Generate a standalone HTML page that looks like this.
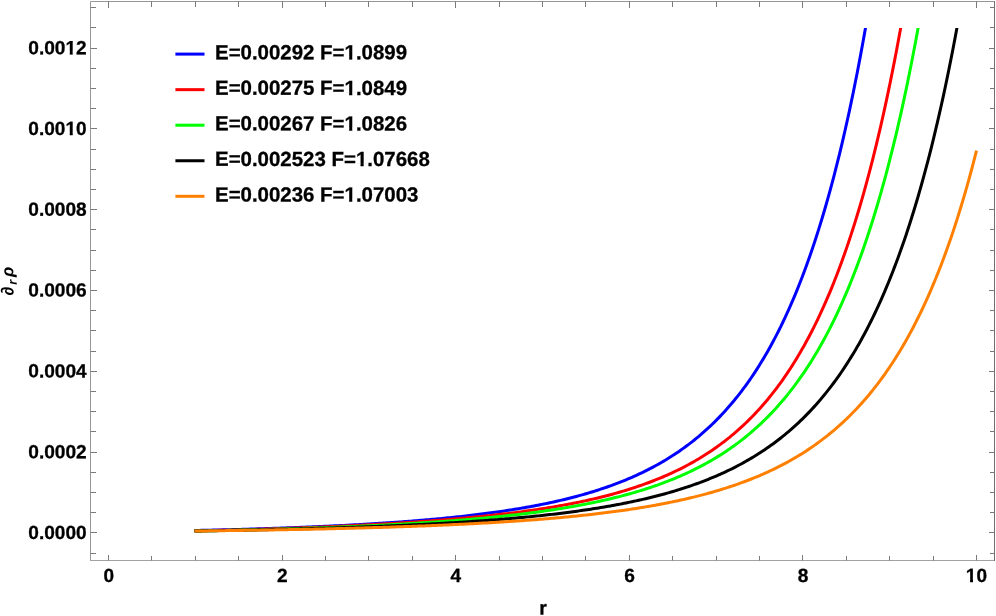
<!DOCTYPE html>
<html><head><meta charset="utf-8"><title>plot</title>
<style>
html,body{margin:0;padding:0;background:#fff;}
body{width:996px;height:616px;position:relative;overflow:hidden;font-family:"Liberation Sans",sans-serif;font-weight:bold;color:#000;}
.t{position:absolute;white-space:nowrap;line-height:1;-webkit-text-stroke:0.3px #000;}
#txt{position:absolute;left:0;top:0;width:996px;height:616px;will-change:transform;transform:translateZ(0);}
.one{display:inline-block;clip-path:polygon(-1px -1px,110% -1px,110% 0.7em,calc(0.3706em + 0.15px) 0.7em,calc(0.3706em + 0.15px) 1.1em,calc(0.2334em - 0.15px) 1.1em,calc(0.2334em - 0.15px) 0.7em,-1px 0.7em);}
.yl{font-size:19.1px;right:909px;text-align:right;}
.xl{font-size:19.1px;}
.lg{font-size:20.45px;left:215.1px;}
</style></head><body>
<svg width="996" height="616" viewBox="0 0 996 616" style="position:absolute;left:0;top:0">
<defs><clipPath id="cp"><rect x="91" y="28" width="903" height="532"/></clipPath></defs><g clip-path="url(#cp)">
<path d="M194.45 530.51 L195.35 530.49 L197.31 530.44 L199.27 530.40 L201.22 530.36 L203.18 530.32 L205.14 530.27 L207.10 530.23 L209.06 530.18 L211.01 530.14 L212.97 530.09 L214.93 530.04 L216.89 530.00 L218.84 529.95 L220.80 529.90 L222.76 529.85 L224.72 529.80 L226.68 529.75 L228.63 529.70 L230.59 529.65 L232.55 529.60 L234.51 529.54 L236.47 529.49 L238.42 529.44 L240.38 529.38 L242.34 529.33 L244.30 529.27 L246.26 529.22 L248.21 529.16 L250.17 529.10 L252.13 529.04 L254.09 528.98 L256.04 528.92 L258.00 528.86 L259.96 528.80 L261.92 528.74 L263.88 528.68 L265.83 528.61 L267.79 528.55 L269.75 528.49 L271.71 528.42 L273.67 528.35 L275.62 528.29 L277.58 528.22 L279.54 528.15 L281.50 528.08 L283.46 528.01 L285.41 527.94 L287.37 527.87 L289.33 527.80 L291.29 527.72 L293.24 527.65 L295.20 527.57 L297.16 527.50 L299.12 527.42 L301.08 527.34 L303.03 527.26 L304.99 527.18 L306.95 527.10 L308.91 527.02 L310.87 526.94 L312.82 526.86 L314.78 526.77 L316.74 526.69 L318.70 526.60 L320.66 526.51 L322.61 526.42 L324.57 526.33 L326.53 526.24 L328.49 526.15 L330.44 526.06 L332.40 525.97 L334.36 525.87 L336.32 525.78 L338.28 525.68 L340.23 525.58 L342.19 525.48 L344.15 525.38 L346.11 525.28 L348.07 525.18 L350.02 525.07 L351.98 524.97 L353.94 524.86 L355.90 524.75 L357.86 524.65 L359.81 524.54 L361.77 524.42 L363.73 524.31 L365.69 524.20 L367.64 524.08 L369.60 523.96 L371.56 523.85 L373.52 523.73 L375.48 523.60 L377.43 523.48 L379.39 523.36 L381.35 523.23 L383.31 523.10 L385.27 522.97 L387.22 522.84 L389.18 522.71 L391.14 522.58 L393.10 522.44 L395.06 522.31 L397.01 522.17 L398.97 522.03 L400.93 521.88 L402.89 521.74 L404.84 521.59 L406.80 521.45 L408.76 521.30 L410.72 521.14 L412.68 520.99 L414.63 520.84 L416.59 520.68 L418.55 520.52 L420.51 520.36 L422.47 520.19 L424.42 520.03 L426.38 519.86 L428.34 519.69 L430.30 519.52 L432.26 519.34 L434.21 519.16 L436.17 518.98 L438.13 518.80 L440.09 518.62 L442.04 518.43 L444.00 518.24 L445.96 518.05 L447.92 517.86 L449.88 517.66 L451.83 517.46 L453.79 517.26 L455.75 517.05 L457.71 516.85 L459.67 516.63 L461.62 516.42 L463.58 516.20 L465.54 515.98 L467.50 515.76 L469.46 515.54 L471.41 515.31 L473.37 515.07 L475.33 514.84 L477.29 514.60 L479.24 514.36 L481.20 514.11 L483.16 513.86 L485.12 513.61 L487.08 513.35 L489.03 513.09 L490.99 512.83 L492.95 512.56 L494.91 512.29 L496.87 512.02 L498.82 511.74 L500.78 511.45 L502.74 511.16 L504.70 510.87 L506.66 510.58 L508.61 510.27 L510.57 509.97 L512.53 509.66 L514.49 509.34 L516.44 509.02 L518.40 508.70 L520.36 508.37 L522.32 508.04 L524.28 507.70 L526.23 507.35 L528.19 507.00 L530.15 506.65 L532.11 506.29 L534.07 505.92 L536.02 505.55 L537.98 505.17 L539.94 504.79 L541.90 504.40 L543.86 504.00 L545.81 503.60 L547.77 503.19 L549.73 502.77 L551.69 502.35 L553.64 501.92 L555.60 501.48 L557.56 501.04 L559.52 500.59 L561.48 500.13 L563.43 499.67 L565.39 499.20 L567.35 498.72 L569.31 498.23 L571.27 497.73 L573.22 497.23 L575.18 496.71 L577.14 496.19 L579.10 495.66 L581.06 495.12 L583.01 494.57 L584.97 494.01 L586.93 493.45 L588.89 492.87 L590.84 492.28 L592.80 491.69 L594.76 491.08 L596.72 490.46 L598.68 489.83 L600.63 489.19 L602.59 488.54 L604.55 487.88 L606.51 487.21 L608.47 486.52 L610.42 485.83 L612.38 485.12 L614.34 484.39 L616.30 483.66 L618.26 482.91 L620.21 482.15 L622.17 481.37 L624.13 480.58 L626.09 479.78 L628.04 478.96 L630.00 478.13 L631.96 477.28 L633.92 476.42 L635.88 475.54 L637.83 474.64 L639.79 473.73 L641.75 472.80 L643.71 471.85 L645.67 470.89 L647.62 469.91 L649.58 468.91 L651.54 467.89 L653.50 466.85 L655.46 465.79 L657.41 464.71 L659.37 463.61 L661.33 462.49 L663.29 461.35 L665.24 460.19 L667.20 459.00 L669.16 457.80 L671.12 456.56 L673.08 455.31 L675.03 454.03 L676.99 452.72 L678.95 451.39 L680.91 450.04 L682.87 448.65 L684.82 447.24 L686.78 445.80 L688.74 444.33 L690.70 442.84 L692.66 441.31 L694.61 439.75 L696.57 438.17 L698.53 436.55 L700.49 434.89 L702.44 433.21 L704.40 431.48 L706.36 429.73 L708.32 427.94 L710.28 426.11 L712.23 424.24 L714.19 422.34 L716.15 420.39 L718.11 418.41 L720.07 416.38 L722.02 414.31 L723.98 412.20 L725.94 410.05 L727.90 407.85 L729.86 405.60 L731.81 403.30 L733.77 400.96 L735.73 398.57 L737.69 396.12 L739.64 393.63 L741.60 391.08 L743.56 388.47 L745.52 385.81 L747.48 383.09 L749.43 380.31 L751.39 377.48 L753.35 374.58 L755.31 371.61 L757.27 368.58 L759.22 365.49 L761.18 362.33 L763.14 359.10 L765.10 355.79 L767.06 352.41 L769.01 348.96 L770.97 345.43 L772.93 341.82 L774.89 338.13 L776.84 334.36 L778.80 330.50 L780.76 326.56 L782.72 322.52 L784.68 318.40 L786.63 314.17 L788.59 309.86 L790.55 305.44 L792.51 300.92 L794.47 296.30 L796.42 291.57 L798.38 286.73 L800.34 281.78 L802.30 276.72 L804.26 271.53 L806.21 266.23 L808.17 260.80 L810.13 255.24 L812.09 249.55 L814.04 243.73 L816.00 237.77 L817.96 231.66 L819.92 225.41 L821.88 219.02 L823.83 212.46 L825.79 205.76 L827.75 198.88 L829.71 191.85 L831.67 184.64 L833.62 177.26 L835.58 169.70 L837.54 161.95 L839.50 154.02 L841.46 145.89 L843.41 137.56 L845.37 129.02 L847.33 120.28 L849.29 111.32 L851.24 102.13 L853.20 92.72 L855.16 83.07 L857.12 73.18 L859.08 63.05 L861.03 52.65 L862.99 42.00 L864.95 31.08 L866.91 19.88" fill="none" stroke="#0000ff" stroke-width="3" stroke-linejoin="round" stroke-linecap="butt"/>
<path d="M194.45 530.91 L195.35 530.89 L197.31 530.85 L199.27 530.81 L201.22 530.77 L203.18 530.73 L205.14 530.68 L207.10 530.64 L209.06 530.60 L211.01 530.55 L212.97 530.51 L214.93 530.46 L216.89 530.41 L218.84 530.37 L220.80 530.32 L222.76 530.27 L224.72 530.22 L226.68 530.18 L228.63 530.13 L230.59 530.08 L232.55 530.02 L234.51 529.97 L236.47 529.92 L238.42 529.87 L240.38 529.82 L242.34 529.76 L244.30 529.71 L246.26 529.65 L248.21 529.60 L250.17 529.54 L252.13 529.48 L254.09 529.43 L256.04 529.37 L258.00 529.31 L259.96 529.25 L261.92 529.19 L263.88 529.13 L265.83 529.07 L267.79 529.01 L269.75 528.94 L271.71 528.88 L273.67 528.82 L275.62 528.75 L277.58 528.69 L279.54 528.62 L281.50 528.55 L283.46 528.49 L285.41 528.42 L287.37 528.35 L289.33 528.28 L291.29 528.21 L293.24 528.14 L295.20 528.07 L297.16 528.00 L299.12 527.92 L301.08 527.85 L303.03 527.78 L304.99 527.70 L306.95 527.62 L308.91 527.55 L310.87 527.47 L312.82 527.39 L314.78 527.31 L316.74 527.23 L318.70 527.15 L320.66 527.07 L322.61 526.99 L324.57 526.91 L326.53 526.82 L328.49 526.74 L330.44 526.65 L332.40 526.57 L334.36 526.48 L336.32 526.39 L338.28 526.30 L340.23 526.21 L342.19 526.12 L344.15 526.03 L346.11 525.94 L348.07 525.84 L350.02 525.75 L351.98 525.65 L353.94 525.56 L355.90 525.46 L357.86 525.36 L359.81 525.26 L361.77 525.16 L363.73 525.06 L365.69 524.96 L367.64 524.85 L369.60 524.75 L371.56 524.64 L373.52 524.54 L375.48 524.43 L377.43 524.32 L379.39 524.21 L381.35 524.10 L383.31 523.99 L385.27 523.87 L387.22 523.76 L389.18 523.64 L391.14 523.53 L393.10 523.41 L395.06 523.29 L397.01 523.17 L398.97 523.04 L400.93 522.92 L402.89 522.80 L404.84 522.67 L406.80 522.54 L408.76 522.41 L410.72 522.28 L412.68 522.15 L414.63 522.02 L416.59 521.88 L418.55 521.75 L420.51 521.61 L422.47 521.47 L424.42 521.33 L426.38 521.19 L428.34 521.04 L430.30 520.90 L432.26 520.75 L434.21 520.60 L436.17 520.45 L438.13 520.30 L440.09 520.15 L442.04 519.99 L444.00 519.83 L445.96 519.67 L447.92 519.51 L449.88 519.35 L451.83 519.18 L453.79 519.01 L455.75 518.85 L457.71 518.67 L459.67 518.50 L461.62 518.33 L463.58 518.15 L465.54 517.97 L467.50 517.79 L469.46 517.60 L471.41 517.42 L473.37 517.23 L475.33 517.04 L477.29 516.84 L479.24 516.65 L481.20 516.45 L483.16 516.25 L485.12 516.04 L487.08 515.84 L489.03 515.63 L490.99 515.42 L492.95 515.20 L494.91 514.98 L496.87 514.76 L498.82 514.54 L500.78 514.31 L502.74 514.09 L504.70 513.85 L506.66 513.62 L508.61 513.38 L510.57 513.14 L512.53 512.89 L514.49 512.64 L516.44 512.39 L518.40 512.14 L520.36 511.88 L522.32 511.62 L524.28 511.35 L526.23 511.08 L528.19 510.81 L530.15 510.53 L532.11 510.25 L534.07 509.96 L536.02 509.67 L537.98 509.38 L539.94 509.08 L541.90 508.78 L543.86 508.47 L545.81 508.16 L547.77 507.85 L549.73 507.53 L551.69 507.20 L553.64 506.87 L555.60 506.54 L557.56 506.20 L559.52 505.85 L561.48 505.50 L563.43 505.14 L565.39 504.78 L567.35 504.42 L569.31 504.05 L571.27 503.67 L573.22 503.28 L575.18 502.89 L577.14 502.50 L579.10 502.10 L581.06 501.69 L583.01 501.27 L584.97 500.85 L586.93 500.42 L588.89 499.99 L590.84 499.55 L592.80 499.10 L594.76 498.64 L596.72 498.18 L598.68 497.71 L600.63 497.23 L602.59 496.74 L604.55 496.25 L606.51 495.74 L608.47 495.23 L610.42 494.71 L612.38 494.18 L614.34 493.65 L616.30 493.10 L618.26 492.55 L620.21 491.98 L622.17 491.41 L624.13 490.82 L626.09 490.23 L628.04 489.62 L630.00 489.01 L631.96 488.38 L633.92 487.75 L635.88 487.10 L637.83 486.44 L639.79 485.77 L641.75 485.09 L643.71 484.40 L645.67 483.69 L647.62 482.97 L649.58 482.24 L651.54 481.50 L653.50 480.74 L655.46 479.97 L657.41 479.19 L659.37 478.39 L661.33 477.57 L663.29 476.75 L665.24 475.90 L667.20 475.04 L669.16 474.17 L671.12 473.28 L673.08 472.37 L675.03 471.45 L676.99 470.51 L678.95 469.55 L680.91 468.57 L682.87 467.58 L684.82 466.57 L686.78 465.53 L688.74 464.48 L690.70 463.41 L692.66 462.32 L694.61 461.21 L696.57 460.07 L698.53 458.92 L700.49 457.74 L702.44 456.54 L704.40 455.32 L706.36 454.07 L708.32 452.80 L710.28 451.50 L712.23 450.18 L714.19 448.83 L716.15 447.46 L718.11 446.06 L720.07 444.63 L722.02 443.17 L723.98 441.69 L725.94 440.17 L727.90 438.63 L729.86 437.05 L731.81 435.45 L733.77 433.80 L735.73 432.13 L737.69 430.42 L739.64 428.68 L741.60 426.91 L743.56 425.09 L745.52 423.24 L747.48 421.35 L749.43 419.43 L751.39 417.46 L753.35 415.45 L755.31 413.41 L757.27 411.31 L759.22 409.18 L761.18 407.00 L763.14 404.78 L765.10 402.51 L767.06 400.19 L769.01 397.82 L770.97 395.40 L772.93 392.93 L774.89 390.41 L776.84 387.84 L778.80 385.21 L780.76 382.52 L782.72 379.78 L784.68 376.98 L786.63 374.11 L788.59 371.19 L790.55 368.20 L792.51 365.15 L794.47 362.03 L796.42 358.85 L798.38 355.59 L800.34 352.27 L802.30 348.87 L804.26 345.39 L806.21 341.84 L808.17 338.21 L810.13 334.51 L812.09 330.71 L814.04 326.84 L816.00 322.88 L817.96 318.83 L819.92 314.69 L821.88 310.46 L823.83 306.13 L825.79 301.70 L827.75 297.18 L829.71 292.55 L831.67 287.82 L833.62 282.98 L835.58 278.03 L837.54 272.97 L839.50 267.79 L841.46 262.50 L843.41 257.08 L845.37 251.54 L847.33 245.87 L849.29 240.07 L851.24 234.14 L853.20 228.07 L855.16 221.86 L857.12 215.50 L859.08 209.00 L861.03 202.35 L862.99 195.54 L864.95 188.57 L866.91 181.43 L868.87 174.13 L870.82 166.66 L872.78 159.01 L874.74 151.18 L876.70 143.17 L878.66 134.96 L880.61 126.56 L882.57 117.97 L884.53 109.16 L886.49 100.15 L888.44 90.92 L890.40 81.47 L892.36 71.79 L894.32 61.88 L896.28 51.73 L898.23 41.33 L900.19 30.69 L902.15 19.79" fill="none" stroke="#ff0000" stroke-width="3" stroke-linejoin="round" stroke-linecap="butt"/>
<path d="M194.45 531.01 L195.35 530.99 L197.31 530.95 L199.27 530.92 L201.22 530.88 L203.18 530.85 L205.14 530.81 L207.10 530.78 L209.06 530.74 L211.01 530.70 L212.97 530.66 L214.93 530.63 L216.89 530.59 L218.84 530.55 L220.80 530.51 L222.76 530.47 L224.72 530.43 L226.68 530.39 L228.63 530.35 L230.59 530.30 L232.55 530.26 L234.51 530.22 L236.47 530.18 L238.42 530.13 L240.38 530.09 L242.34 530.04 L244.30 530.00 L246.26 529.95 L248.21 529.90 L250.17 529.86 L252.13 529.81 L254.09 529.76 L256.04 529.71 L258.00 529.66 L259.96 529.61 L261.92 529.56 L263.88 529.51 L265.83 529.46 L267.79 529.41 L269.75 529.36 L271.71 529.30 L273.67 529.25 L275.62 529.20 L277.58 529.14 L279.54 529.09 L281.50 529.03 L283.46 528.97 L285.41 528.92 L287.37 528.86 L289.33 528.80 L291.29 528.74 L293.24 528.68 L295.20 528.62 L297.16 528.56 L299.12 528.50 L301.08 528.43 L303.03 528.37 L304.99 528.31 L306.95 528.24 L308.91 528.18 L310.87 528.11 L312.82 528.04 L314.78 527.98 L316.74 527.91 L318.70 527.84 L320.66 527.77 L322.61 527.70 L324.57 527.63 L326.53 527.56 L328.49 527.48 L330.44 527.41 L332.40 527.34 L334.36 527.26 L336.32 527.19 L338.28 527.11 L340.23 527.03 L342.19 526.95 L344.15 526.87 L346.11 526.79 L348.07 526.71 L350.02 526.63 L351.98 526.55 L353.94 526.46 L355.90 526.38 L357.86 526.29 L359.81 526.21 L361.77 526.12 L363.73 526.03 L365.69 525.94 L367.64 525.85 L369.60 525.76 L371.56 525.67 L373.52 525.57 L375.48 525.48 L377.43 525.38 L379.39 525.29 L381.35 525.19 L383.31 525.09 L385.27 524.99 L387.22 524.89 L389.18 524.79 L391.14 524.68 L393.10 524.58 L395.06 524.47 L397.01 524.36 L398.97 524.26 L400.93 524.15 L402.89 524.04 L404.84 523.92 L406.80 523.81 L408.76 523.70 L410.72 523.58 L412.68 523.46 L414.63 523.34 L416.59 523.22 L418.55 523.10 L420.51 522.98 L422.47 522.86 L424.42 522.73 L426.38 522.60 L428.34 522.47 L430.30 522.34 L432.26 522.21 L434.21 522.08 L436.17 521.94 L438.13 521.81 L440.09 521.67 L442.04 521.53 L444.00 521.39 L445.96 521.24 L447.92 521.10 L449.88 520.95 L451.83 520.80 L453.79 520.65 L455.75 520.50 L457.71 520.34 L459.67 520.19 L461.62 520.03 L463.58 519.87 L465.54 519.71 L467.50 519.54 L469.46 519.38 L471.41 519.21 L473.37 519.04 L475.33 518.86 L477.29 518.69 L479.24 518.51 L481.20 518.33 L483.16 518.15 L485.12 517.96 L487.08 517.78 L489.03 517.59 L490.99 517.40 L492.95 517.20 L494.91 517.01 L496.87 516.81 L498.82 516.60 L500.78 516.40 L502.74 516.19 L504.70 515.98 L506.66 515.77 L508.61 515.55 L510.57 515.33 L512.53 515.11 L514.49 514.89 L516.44 514.66 L518.40 514.43 L520.36 514.19 L522.32 513.96 L524.28 513.72 L526.23 513.47 L528.19 513.22 L530.15 512.97 L532.11 512.72 L534.07 512.46 L536.02 512.20 L537.98 511.93 L539.94 511.66 L541.90 511.39 L543.86 511.11 L545.81 510.83 L547.77 510.55 L549.73 510.26 L551.69 509.96 L553.64 509.67 L555.60 509.36 L557.56 509.06 L559.52 508.75 L561.48 508.43 L563.43 508.11 L565.39 507.78 L567.35 507.45 L569.31 507.12 L571.27 506.78 L573.22 506.43 L575.18 506.08 L577.14 505.73 L579.10 505.37 L581.06 505.00 L583.01 504.63 L584.97 504.25 L586.93 503.87 L588.89 503.48 L590.84 503.08 L592.80 502.68 L594.76 502.27 L596.72 501.86 L598.68 501.44 L600.63 501.01 L602.59 500.57 L604.55 500.13 L606.51 499.68 L608.47 499.23 L610.42 498.76 L612.38 498.29 L614.34 497.82 L616.30 497.33 L618.26 496.84 L620.21 496.34 L622.17 495.83 L624.13 495.31 L626.09 494.78 L628.04 494.25 L630.00 493.70 L631.96 493.15 L633.92 492.59 L635.88 492.02 L637.83 491.43 L639.79 490.84 L641.75 490.24 L643.71 489.63 L645.67 489.01 L647.62 488.38 L649.58 487.74 L651.54 487.08 L653.50 486.42 L655.46 485.74 L657.41 485.05 L659.37 484.35 L661.33 483.64 L663.29 482.92 L665.24 482.18 L667.20 481.43 L669.16 480.67 L671.12 479.89 L673.08 479.10 L675.03 478.30 L676.99 477.48 L678.95 476.64 L680.91 475.80 L682.87 474.93 L684.82 474.06 L686.78 473.16 L688.74 472.25 L690.70 471.32 L692.66 470.38 L694.61 469.42 L696.57 468.44 L698.53 467.44 L700.49 466.43 L702.44 465.40 L704.40 464.34 L706.36 463.27 L708.32 462.18 L710.28 461.07 L712.23 459.93 L714.19 458.78 L716.15 457.60 L718.11 456.40 L720.07 455.18 L722.02 453.94 L723.98 452.67 L725.94 451.38 L727.90 450.06 L729.86 448.72 L731.81 447.35 L733.77 445.96 L735.73 444.54 L737.69 443.09 L739.64 441.61 L741.60 440.11 L743.56 438.57 L745.52 437.01 L747.48 435.41 L749.43 433.79 L751.39 432.13 L753.35 430.44 L755.31 428.71 L757.27 426.95 L759.22 425.16 L761.18 423.32 L763.14 421.46 L765.10 419.55 L767.06 417.61 L769.01 415.62 L770.97 413.60 L772.93 411.54 L774.89 409.43 L776.84 407.28 L778.80 405.09 L780.76 402.85 L782.72 400.56 L784.68 398.23 L786.63 395.85 L788.59 393.42 L790.55 390.94 L792.51 388.41 L794.47 385.82 L796.42 383.18 L798.38 380.49 L800.34 377.74 L802.30 374.93 L804.26 372.06 L806.21 369.13 L808.17 366.13 L810.13 363.08 L812.09 359.95 L814.04 356.76 L816.00 353.51 L817.96 350.18 L819.92 346.78 L821.88 343.30 L823.83 339.75 L825.79 336.12 L827.75 332.42 L829.71 328.63 L831.67 324.76 L833.62 320.80 L835.58 316.76 L837.54 312.62 L839.50 308.40 L841.46 304.08 L843.41 299.67 L845.37 295.15 L847.33 290.54 L849.29 285.82 L851.24 280.99 L853.20 276.06 L855.16 271.01 L857.12 265.85 L859.08 260.57 L861.03 255.18 L862.99 249.66 L864.95 244.01 L866.91 238.23 L868.87 232.32 L870.82 226.27 L872.78 220.09 L874.74 213.76 L876.70 207.28 L878.66 200.65 L880.61 193.87 L882.57 186.93 L884.53 179.82 L886.49 172.55 L888.44 165.11 L890.40 157.49 L892.36 149.69 L894.32 141.71 L896.28 133.53 L898.23 125.16 L900.19 116.59 L902.15 107.82 L904.11 98.84 L906.07 89.63 L908.02 80.21 L909.98 70.56 L911.94 60.67 L913.90 50.55 L915.86 40.18 L917.81 29.55 L919.77 18.67" fill="none" stroke="#00ff00" stroke-width="3" stroke-linejoin="round" stroke-linecap="butt"/>
<path d="M194.45 530.99 L195.35 530.97 L197.31 530.94 L199.27 530.91 L201.22 530.88 L203.18 530.85 L205.14 530.82 L207.10 530.79 L209.06 530.76 L211.01 530.72 L212.97 530.69 L214.93 530.66 L216.89 530.63 L218.84 530.59 L220.80 530.56 L222.76 530.53 L224.72 530.49 L226.68 530.46 L228.63 530.42 L230.59 530.39 L232.55 530.35 L234.51 530.31 L236.47 530.28 L238.42 530.24 L240.38 530.20 L242.34 530.17 L244.30 530.13 L246.26 530.09 L248.21 530.05 L250.17 530.01 L252.13 529.97 L254.09 529.93 L256.04 529.89 L258.00 529.85 L259.96 529.81 L261.92 529.77 L263.88 529.73 L265.83 529.68 L267.79 529.64 L269.75 529.60 L271.71 529.55 L273.67 529.51 L275.62 529.47 L277.58 529.42 L279.54 529.37 L281.50 529.33 L283.46 529.28 L285.41 529.24 L287.37 529.19 L289.33 529.14 L291.29 529.09 L293.24 529.04 L295.20 528.99 L297.16 528.94 L299.12 528.89 L301.08 528.84 L303.03 528.79 L304.99 528.74 L306.95 528.69 L308.91 528.63 L310.87 528.58 L312.82 528.52 L314.78 528.47 L316.74 528.41 L318.70 528.36 L320.66 528.30 L322.61 528.25 L324.57 528.19 L326.53 528.13 L328.49 528.07 L330.44 528.01 L332.40 527.95 L334.36 527.89 L336.32 527.83 L338.28 527.77 L340.23 527.70 L342.19 527.64 L344.15 527.58 L346.11 527.51 L348.07 527.45 L350.02 527.38 L351.98 527.32 L353.94 527.25 L355.90 527.18 L357.86 527.11 L359.81 527.04 L361.77 526.97 L363.73 526.90 L365.69 526.83 L367.64 526.76 L369.60 526.68 L371.56 526.61 L373.52 526.54 L375.48 526.46 L377.43 526.38 L379.39 526.31 L381.35 526.23 L383.31 526.15 L385.27 526.07 L387.22 525.99 L389.18 525.91 L391.14 525.82 L393.10 525.74 L395.06 525.66 L397.01 525.57 L398.97 525.49 L400.93 525.40 L402.89 525.31 L404.84 525.22 L406.80 525.13 L408.76 525.04 L410.72 524.95 L412.68 524.86 L414.63 524.76 L416.59 524.67 L418.55 524.57 L420.51 524.47 L422.47 524.38 L424.42 524.28 L426.38 524.18 L428.34 524.07 L430.30 523.97 L432.26 523.87 L434.21 523.76 L436.17 523.66 L438.13 523.55 L440.09 523.44 L442.04 523.33 L444.00 523.22 L445.96 523.10 L447.92 522.99 L449.88 522.87 L451.83 522.76 L453.79 522.64 L455.75 522.52 L457.71 522.40 L459.67 522.27 L461.62 522.15 L463.58 522.03 L465.54 521.90 L467.50 521.77 L469.46 521.64 L471.41 521.51 L473.37 521.37 L475.33 521.24 L477.29 521.10 L479.24 520.96 L481.20 520.82 L483.16 520.68 L485.12 520.54 L487.08 520.39 L489.03 520.24 L490.99 520.10 L492.95 519.94 L494.91 519.79 L496.87 519.64 L498.82 519.48 L500.78 519.32 L502.74 519.16 L504.70 519.00 L506.66 518.83 L508.61 518.66 L510.57 518.49 L512.53 518.32 L514.49 518.15 L516.44 517.97 L518.40 517.79 L520.36 517.61 L522.32 517.43 L524.28 517.24 L526.23 517.06 L528.19 516.87 L530.15 516.67 L532.11 516.48 L534.07 516.28 L536.02 516.08 L537.98 515.87 L539.94 515.67 L541.90 515.46 L543.86 515.24 L545.81 515.03 L547.77 514.81 L549.73 514.59 L551.69 514.37 L553.64 514.14 L555.60 513.91 L557.56 513.67 L559.52 513.44 L561.48 513.20 L563.43 512.95 L565.39 512.70 L567.35 512.45 L569.31 512.20 L571.27 511.94 L573.22 511.68 L575.18 511.41 L577.14 511.14 L579.10 510.87 L581.06 510.59 L583.01 510.31 L584.97 510.03 L586.93 509.74 L588.89 509.44 L590.84 509.15 L592.80 508.84 L594.76 508.54 L596.72 508.22 L598.68 507.91 L600.63 507.59 L602.59 507.26 L604.55 506.93 L606.51 506.59 L608.47 506.25 L610.42 505.91 L612.38 505.56 L614.34 505.20 L616.30 504.84 L618.26 504.47 L620.21 504.10 L622.17 503.72 L624.13 503.33 L626.09 502.94 L628.04 502.54 L630.00 502.14 L631.96 501.73 L633.92 501.32 L635.88 500.89 L637.83 500.46 L639.79 500.03 L641.75 499.59 L643.71 499.14 L645.67 498.68 L647.62 498.21 L649.58 497.74 L651.54 497.26 L653.50 496.77 L655.46 496.28 L657.41 495.78 L659.37 495.26 L661.33 494.74 L663.29 494.22 L665.24 493.68 L667.20 493.13 L669.16 492.58 L671.12 492.01 L673.08 491.44 L675.03 490.86 L676.99 490.26 L678.95 489.66 L680.91 489.05 L682.87 488.42 L684.82 487.79 L686.78 487.14 L688.74 486.49 L690.70 485.82 L692.66 485.14 L694.61 484.45 L696.57 483.75 L698.53 483.04 L700.49 482.31 L702.44 481.57 L704.40 480.82 L706.36 480.05 L708.32 479.27 L710.28 478.48 L712.23 477.68 L714.19 476.86 L716.15 476.02 L718.11 475.17 L720.07 474.31 L722.02 473.43 L723.98 472.53 L725.94 471.62 L727.90 470.69 L729.86 469.74 L731.81 468.78 L733.77 467.80 L735.73 466.81 L737.69 465.79 L739.64 464.76 L741.60 463.70 L743.56 462.63 L745.52 461.54 L747.48 460.43 L749.43 459.29 L751.39 458.14 L753.35 456.96 L755.31 455.77 L757.27 454.55 L759.22 453.30 L761.18 452.04 L763.14 450.75 L765.10 449.43 L767.06 448.09 L769.01 446.73 L770.97 445.34 L772.93 443.92 L774.89 442.48 L776.84 441.01 L778.80 439.51 L780.76 437.98 L782.72 436.42 L784.68 434.83 L786.63 433.21 L788.59 431.56 L790.55 429.87 L792.51 428.16 L794.47 426.41 L796.42 424.62 L798.38 422.80 L800.34 420.94 L802.30 419.05 L804.26 417.12 L806.21 415.15 L808.17 413.14 L810.13 411.09 L812.09 409.00 L814.04 406.87 L816.00 404.69 L817.96 402.47 L819.92 400.21 L821.88 397.90 L823.83 395.54 L825.79 393.13 L827.75 390.68 L829.71 388.17 L831.67 385.61 L833.62 383.00 L835.58 380.34 L837.54 377.62 L839.50 374.84 L841.46 372.01 L843.41 369.11 L845.37 366.16 L847.33 363.14 L849.29 360.06 L851.24 356.91 L853.20 353.70 L855.16 350.42 L857.12 347.07 L859.08 343.65 L861.03 340.16 L862.99 336.59 L864.95 332.94 L866.91 329.21 L868.87 325.41 L870.82 321.52 L872.78 317.55 L874.74 313.49 L876.70 309.34 L878.66 305.11 L880.61 300.77 L882.57 296.35 L884.53 291.83 L886.49 287.20 L888.44 282.48 L890.40 277.65 L892.36 272.71 L894.32 267.66 L896.28 262.50 L898.23 257.23 L900.19 251.83 L902.15 246.32 L904.11 240.68 L906.07 234.91 L908.02 229.01 L909.98 222.98 L911.94 216.81 L913.90 210.50 L915.86 204.05 L917.81 197.45 L919.77 190.69 L921.73 183.78 L923.69 176.72 L925.64 169.48 L927.60 162.08 L929.56 154.51 L931.52 146.76 L933.48 138.84 L935.43 130.72 L937.39 122.42 L939.35 113.92 L941.31 105.22 L943.27 96.31 L945.22 87.19 L947.18 77.86 L949.14 68.31 L951.10 58.53 L953.06 48.51 L955.01 38.25 L956.97 27.75 L958.93 17.00" fill="none" stroke="#000000" stroke-width="3" stroke-linejoin="round" stroke-linecap="butt"/>
<path d="M194.45 531.04 L195.35 531.02 L197.31 531.00 L199.27 530.97 L201.22 530.95 L203.18 530.93 L205.14 530.90 L207.10 530.88 L209.06 530.85 L211.01 530.83 L212.97 530.80 L214.93 530.78 L216.89 530.75 L218.84 530.73 L220.80 530.70 L222.76 530.68 L224.72 530.65 L226.68 530.62 L228.63 530.60 L230.59 530.57 L232.55 530.54 L234.51 530.51 L236.47 530.49 L238.42 530.46 L240.38 530.43 L242.34 530.40 L244.30 530.37 L246.26 530.34 L248.21 530.31 L250.17 530.28 L252.13 530.25 L254.09 530.22 L256.04 530.19 L258.00 530.16 L259.96 530.13 L261.92 530.09 L263.88 530.06 L265.83 530.03 L267.79 530.00 L269.75 529.96 L271.71 529.93 L273.67 529.90 L275.62 529.86 L277.58 529.83 L279.54 529.79 L281.50 529.76 L283.46 529.72 L285.41 529.69 L287.37 529.65 L289.33 529.61 L291.29 529.58 L293.24 529.54 L295.20 529.50 L297.16 529.46 L299.12 529.42 L301.08 529.38 L303.03 529.34 L304.99 529.30 L306.95 529.26 L308.91 529.22 L310.87 529.18 L312.82 529.14 L314.78 529.10 L316.74 529.06 L318.70 529.01 L320.66 528.97 L322.61 528.93 L324.57 528.88 L326.53 528.84 L328.49 528.79 L330.44 528.75 L332.40 528.70 L334.36 528.65 L336.32 528.61 L338.28 528.56 L340.23 528.51 L342.19 528.46 L344.15 528.41 L346.11 528.36 L348.07 528.31 L350.02 528.26 L351.98 528.21 L353.94 528.16 L355.90 528.11 L357.86 528.06 L359.81 528.00 L361.77 527.95 L363.73 527.89 L365.69 527.84 L367.64 527.78 L369.60 527.73 L371.56 527.67 L373.52 527.61 L375.48 527.56 L377.43 527.50 L379.39 527.44 L381.35 527.38 L383.31 527.32 L385.27 527.26 L387.22 527.19 L389.18 527.13 L391.14 527.07 L393.10 527.00 L395.06 526.94 L397.01 526.87 L398.97 526.81 L400.93 526.74 L402.89 526.67 L404.84 526.60 L406.80 526.54 L408.76 526.47 L410.72 526.40 L412.68 526.32 L414.63 526.25 L416.59 526.18 L418.55 526.10 L420.51 526.03 L422.47 525.95 L424.42 525.88 L426.38 525.80 L428.34 525.72 L430.30 525.64 L432.26 525.56 L434.21 525.48 L436.17 525.40 L438.13 525.32 L440.09 525.23 L442.04 525.15 L444.00 525.06 L445.96 524.98 L447.92 524.89 L449.88 524.80 L451.83 524.71 L453.79 524.62 L455.75 524.53 L457.71 524.44 L459.67 524.34 L461.62 524.25 L463.58 524.15 L465.54 524.05 L467.50 523.96 L469.46 523.86 L471.41 523.76 L473.37 523.65 L475.33 523.55 L477.29 523.45 L479.24 523.34 L481.20 523.23 L483.16 523.12 L485.12 523.02 L487.08 522.90 L489.03 522.79 L490.99 522.68 L492.95 522.56 L494.91 522.45 L496.87 522.33 L498.82 522.21 L500.78 522.09 L502.74 521.97 L504.70 521.84 L506.66 521.72 L508.61 521.59 L510.57 521.46 L512.53 521.33 L514.49 521.20 L516.44 521.07 L518.40 520.93 L520.36 520.80 L522.32 520.66 L524.28 520.52 L526.23 520.37 L528.19 520.23 L530.15 520.08 L532.11 519.94 L534.07 519.79 L536.02 519.64 L537.98 519.48 L539.94 519.33 L541.90 519.17 L543.86 519.01 L545.81 518.85 L547.77 518.69 L549.73 518.52 L551.69 518.35 L553.64 518.18 L555.60 518.01 L557.56 517.83 L559.52 517.66 L561.48 517.48 L563.43 517.30 L565.39 517.11 L567.35 516.93 L569.31 516.74 L571.27 516.55 L573.22 516.35 L575.18 516.15 L577.14 515.95 L579.10 515.75 L581.06 515.55 L583.01 515.34 L584.97 515.13 L586.93 514.91 L588.89 514.70 L590.84 514.48 L592.80 514.26 L594.76 514.03 L596.72 513.80 L598.68 513.57 L600.63 513.33 L602.59 513.10 L604.55 512.85 L606.51 512.61 L608.47 512.36 L610.42 512.11 L612.38 511.85 L614.34 511.59 L616.30 511.33 L618.26 511.06 L620.21 510.79 L622.17 510.51 L624.13 510.24 L626.09 509.95 L628.04 509.67 L630.00 509.38 L631.96 509.08 L633.92 508.78 L635.88 508.48 L637.83 508.17 L639.79 507.85 L641.75 507.54 L643.71 507.21 L645.67 506.89 L647.62 506.55 L649.58 506.22 L651.54 505.87 L653.50 505.53 L655.46 505.18 L657.41 504.82 L659.37 504.45 L661.33 504.09 L663.29 503.71 L665.24 503.33 L667.20 502.94 L669.16 502.55 L671.12 502.15 L673.08 501.75 L675.03 501.34 L676.99 500.92 L678.95 500.50 L680.91 500.07 L682.87 499.63 L684.82 499.19 L686.78 498.74 L688.74 498.28 L690.70 497.82 L692.66 497.35 L694.61 496.87 L696.57 496.38 L698.53 495.89 L700.49 495.38 L702.44 494.87 L704.40 494.35 L706.36 493.83 L708.32 493.29 L710.28 492.75 L712.23 492.19 L714.19 491.63 L716.15 491.06 L718.11 490.48 L720.07 489.89 L722.02 489.29 L723.98 488.68 L725.94 488.06 L727.90 487.43 L729.86 486.79 L731.81 486.13 L733.77 485.47 L735.73 484.80 L737.69 484.11 L739.64 483.42 L741.60 482.71 L743.56 481.99 L745.52 481.26 L747.48 480.51 L749.43 479.75 L751.39 478.98 L753.35 478.20 L755.31 477.40 L757.27 476.59 L759.22 475.76 L761.18 474.92 L763.14 474.07 L765.10 473.20 L767.06 472.32 L769.01 471.42 L770.97 470.50 L772.93 469.57 L774.89 468.62 L776.84 467.66 L778.80 466.67 L780.76 465.68 L782.72 464.66 L784.68 463.62 L786.63 462.57 L788.59 461.49 L790.55 460.40 L792.51 459.29 L794.47 458.16 L796.42 457.00 L798.38 455.83 L800.34 454.63 L802.30 453.42 L804.26 452.18 L806.21 450.91 L808.17 449.63 L810.13 448.32 L812.09 446.98 L814.04 445.62 L816.00 444.24 L817.96 442.83 L819.92 441.39 L821.88 439.92 L823.83 438.43 L825.79 436.91 L827.75 435.36 L829.71 433.78 L831.67 432.18 L833.62 430.54 L835.58 428.86 L837.54 427.16 L839.50 425.43 L841.46 423.66 L843.41 421.85 L845.37 420.01 L847.33 418.14 L849.29 416.23 L851.24 414.28 L853.20 412.29 L855.16 410.26 L857.12 408.20 L859.08 406.09 L861.03 403.94 L862.99 401.75 L864.95 399.51 L866.91 397.23 L868.87 394.91 L870.82 392.53 L872.78 390.11 L874.74 387.64 L876.70 385.12 L878.66 382.55 L880.61 379.92 L882.57 377.25 L884.53 374.51 L886.49 371.73 L888.44 368.88 L890.40 365.97 L892.36 363.01 L894.32 359.98 L896.28 356.89 L898.23 353.74 L900.19 350.52 L902.15 347.23 L904.11 343.87 L906.07 340.44 L908.02 336.94 L909.98 333.36 L911.94 329.71 L913.90 325.98 L915.86 322.17 L917.81 318.28 L919.77 314.31 L921.73 310.25 L923.69 306.10 L925.64 301.86 L927.60 297.53 L929.56 293.10 L931.52 288.58 L933.48 283.96 L935.43 279.24 L937.39 274.41 L939.35 269.48 L941.31 264.43 L943.27 259.27 L945.22 253.99 L947.18 248.59 L949.14 243.06 L951.10 237.40 L953.06 231.61 L955.01 225.69 L956.97 219.62 L958.93 213.42 L960.89 207.06 L962.84 200.56 L964.80 193.91 L966.76 187.10 L968.72 180.13 L970.68 173.00 L972.63 165.70 L974.59 158.23 L976.55 150.57" fill="none" stroke="#ff8000" stroke-width="3" stroke-linejoin="round" stroke-linecap="butt"/>
</g>
<g stroke="#767676" stroke-width="1" fill="none" shape-rendering="auto">
<path d="M994.5 1.5 H90.5 V560.5" stroke="#969696"/>
<path d="M90.0 560.5 H994.5" stroke="#a2a2a2"/>
<path d="M994.5 1.0 V561.0" stroke="#707070"/>
<path d="M108.5 560.5 v-5.5 M108.5 1.5 v6.5 M151.5 560.5 v-4.5 M151.5 1.5 v5.5 M195.5 560.5 v-4.5 M195.5 1.5 v5.5 M238.5 560.5 v-4.5 M238.5 1.5 v5.5 M282.5 560.5 v-5.5 M282.5 1.5 v6.5 M325.5 560.5 v-4.5 M325.5 1.5 v5.5 M368.5 560.5 v-4.5 M368.5 1.5 v5.5 M412.5 560.5 v-4.5 M412.5 1.5 v5.5 M455.5 560.5 v-5.5 M455.5 1.5 v6.5 M499.5 560.5 v-4.5 M499.5 1.5 v5.5 M542.5 560.5 v-4.5 M542.5 1.5 v5.5 M585.5 560.5 v-4.5 M585.5 1.5 v5.5 M629.5 560.5 v-5.5 M629.5 1.5 v6.5 M672.5 560.5 v-4.5 M672.5 1.5 v5.5 M716.5 560.5 v-4.5 M716.5 1.5 v5.5 M759.5 560.5 v-4.5 M759.5 1.5 v5.5 M802.5 560.5 v-5.5 M802.5 1.5 v6.5 M846.5 560.5 v-4.5 M846.5 1.5 v5.5 M889.5 560.5 v-4.5 M889.5 1.5 v5.5 M933.5 560.5 v-4.5 M933.5 1.5 v5.5 M976.5 560.5 v-5.5 M976.5 1.5 v6.5 M90.5 553.5 h5.5 M994.5 553.5 h-4.5 M90.5 532.5 h6.5 M994.5 532.5 h-5.5 M90.5 512.5 h5.5 M994.5 512.5 h-4.5 M90.5 492.5 h5.5 M994.5 492.5 h-4.5 M90.5 472.5 h5.5 M994.5 472.5 h-4.5 M90.5 452.5 h6.5 M994.5 452.5 h-5.5 M90.5 431.5 h5.5 M994.5 431.5 h-4.5 M90.5 411.5 h5.5 M994.5 411.5 h-4.5 M90.5 391.5 h5.5 M994.5 391.5 h-4.5 M90.5 371.5 h6.5 M994.5 371.5 h-5.5 M90.5 351.5 h5.5 M994.5 351.5 h-4.5 M90.5 330.5 h5.5 M994.5 330.5 h-4.5 M90.5 310.5 h5.5 M994.5 310.5 h-4.5 M90.5 290.5 h6.5 M994.5 290.5 h-5.5 M90.5 270.5 h5.5 M994.5 270.5 h-4.5 M90.5 250.5 h5.5 M994.5 250.5 h-4.5 M90.5 229.5 h5.5 M994.5 229.5 h-4.5 M90.5 209.5 h6.5 M994.5 209.5 h-5.5 M90.5 189.5 h5.5 M994.5 189.5 h-4.5 M90.5 169.5 h5.5 M994.5 169.5 h-4.5 M90.5 149.5 h5.5 M994.5 149.5 h-4.5 M90.5 128.5 h6.5 M994.5 128.5 h-5.5 M90.5 108.5 h5.5 M994.5 108.5 h-4.5 M90.5 88.5 h5.5 M994.5 88.5 h-4.5 M90.5 68.5 h5.5 M994.5 68.5 h-4.5 M90.5 48.5 h6.5 M994.5 48.5 h-5.5 M90.5 27.5 h5.5 M994.5 27.5 h-4.5 M90.5 7.5 h5.5 M994.5 7.5 h-4.5" stroke="#7a7a7a"/>
</g>
<path d="M175.4 54.10 H204.5" stroke="#0000ff" stroke-width="3" fill="none"/>
<path d="M175.4 89.65 H204.5" stroke="#ff0000" stroke-width="3" fill="none"/>
<path d="M175.4 125.20 H204.5" stroke="#00ff00" stroke-width="3" fill="none"/>
<path d="M175.4 160.75 H204.5" stroke="#000000" stroke-width="3" fill="none"/>
<path d="M175.4 196.30 H204.5" stroke="#ff8000" stroke-width="3" fill="none"/>
</svg>
<div id="txt">
<div class="t yl" style="top:523px;transform:translate(-0.7px,0.00px) rotate(0.05deg)">0.0000</div>
<div class="t yl" style="top:442px;transform:translate(-0.7px,0.20px) rotate(0.05deg)">0.0002</div>
<div class="t yl" style="top:361px;transform:translate(-0.7px,0.40px) rotate(0.05deg)">0.0004</div>
<div class="t yl" style="top:280px;transform:translate(-0.7px,0.60px) rotate(0.05deg)">0.0006</div>
<div class="t yl" style="top:199px;transform:translate(-0.7px,0.80px) rotate(0.05deg)">0.0008</div>
<div class="t yl" style="top:119px;transform:translate(-0.7px,0.00px) rotate(0.05deg)">0.00<span class="one">1</span>0</div>
<div class="t yl" style="top:38px;transform:translate(-0.7px,0.20px) rotate(0.05deg)">0.00<span class="one">1</span>2</div>
<div class="t xl" style="left:108px;top:566px;transform:translate(calc(-50% + 0.70px),0.00px) rotate(0.05deg)">0</div>
<div class="t xl" style="left:282px;top:566px;transform:translate(calc(-50% + 0.30px),0.00px) rotate(0.05deg)">2</div>
<div class="t xl" style="left:455px;top:566px;transform:translate(calc(-50% + 0.90px),0.00px) rotate(0.05deg)">4</div>
<div class="t xl" style="left:629px;top:566px;transform:translate(calc(-50% + 0.50px),0.00px) rotate(0.05deg)">6</div>
<div class="t xl" style="left:803px;top:566px;transform:translate(calc(-50% + 0.10px),0.00px) rotate(0.05deg)">8</div>
<div class="t xl" style="left:976px;top:566px;transform:translate(calc(-50% + 0.40px),0.00px) rotate(0.05deg)"><span class="one">1</span>0</div>
<div class="t lg" style="top:42px;transform:translate(0,0.30px) rotate(0.05deg)">E=0.00292 F=<span class="one">1</span>.0899</div>
<div class="t lg" style="top:77px;transform:translate(0,0.85px) rotate(0.05deg)">E=0.00275 F=<span class="one">1</span>.0849</div>
<div class="t lg" style="top:113px;transform:translate(0,0.40px) rotate(0.05deg)">E=0.00267 F=<span class="one">1</span>.0826</div>
<div class="t lg" style="top:148px;transform:translate(0,0.95px) rotate(0.05deg)">E=0.002523 F=<span class="one">1</span>.07668</div>
<div class="t lg" style="top:184px;transform:translate(0,0.50px) rotate(0.05deg)">E=0.00236 F=<span class="one">1</span>.07003</div>
<div class="t" style="font-size:19.5px;left:543.0px;top:598px;transform:translate(-50%,0.40px) rotate(0.05deg)">r</div>
<svg width="40" height="616" viewBox="0 0 40 616" style="position:absolute;left:0;top:0" font-family="Liberation Sans, sans-serif" font-weight="bold" font-style="italic" fill="#000"><text transform="translate(13.60,295.60) rotate(-89.9)" x="0" y="0" font-size="17.8">∂</text><text transform="translate(16.70,284.80) rotate(-89.9)" x="0" y="0" font-size="12.6">r</text><text transform="translate(13.30,277.10) rotate(-89.9)" x="0" y="0" font-size="16.8">ρ</text></svg>
</div></body></html>
